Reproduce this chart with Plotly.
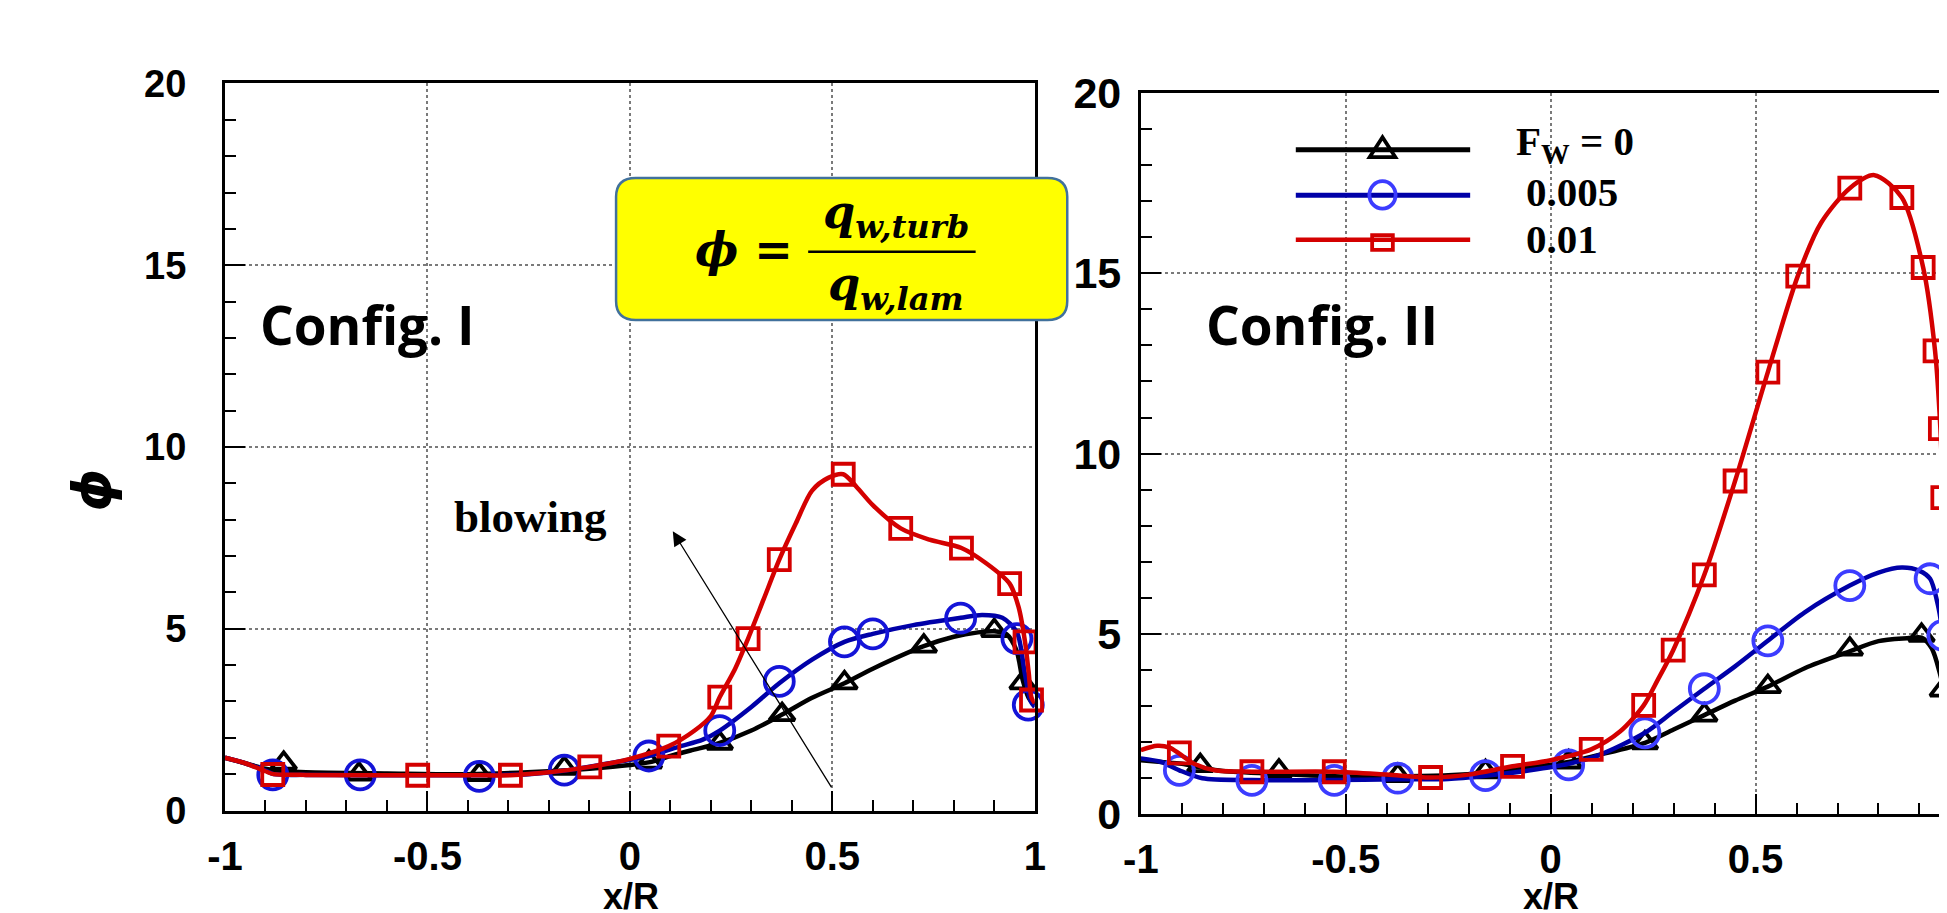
import plotly.graph_objects as go

W, H = 1947, 913

# ---------------- data ----------------
x_ticks = [-1, -0.5, 0, 0.5, 1]
x_tick_text = ["-1", "-0.5", "0", "0.5", "1"]
y_ticks = [0, 5, 10, 15, 20]
y_tick_text = ["0", "5", "10", "15", "20"]
legend_names = ["F<sub>W</sub> = 0", "0.005", "0.01"]

# Config. I  (left panel) - curves
c1_black_cx = [-1.0, -0.95, -0.9, -0.85, -0.8, -0.6, -0.4, -0.2, -0.1, 0.0, 0.05, 0.1, 0.15, 0.22, 0.3, 0.376, 0.45, 0.53, 0.6, 0.726, 0.8, 0.86, 0.9, 0.93, 0.955, 0.97, 0.985, 1.0]
c1_black_cy = [1.45, 1.3, 1.15, 1.08, 1.05, 1.02, 1.0, 1.08, 1.15, 1.25, 1.33, 1.5, 1.65, 1.85, 2.2, 2.64, 3.1, 3.5, 3.9, 4.52, 4.78, 4.9, 4.93, 4.85, 4.4, 3.6, 3.1, 2.9]
c1_blue_cx = [-1.0, -0.95, -0.9, -0.88, -0.8, -0.67, -0.5, -0.37, -0.25, -0.16, -0.05, 0.047, 0.12, 0.18, 0.222, 0.3, 0.369, 0.45, 0.53, 0.6, 0.7, 0.817, 0.87, 0.92, 0.956, 0.975, 0.99, 1.0]
c1_blue_cy = [1.45, 1.3, 1.1, 1.0, 0.98, 0.97, 0.97, 0.97, 1.0, 1.1, 1.3, 1.5, 1.75, 1.95, 2.2, 2.85, 3.5, 4.15, 4.64, 4.86, 5.1, 5.3, 5.38, 5.3, 4.9, 3.8, 3.0, 2.85]
c1_red_cx = [-1.0, -0.95, -0.9, -0.88, -0.8, -0.526, -0.4, -0.295, -0.2, -0.099, 0.0, 0.096, 0.16, 0.2, 0.222, 0.26, 0.292, 0.33, 0.369, 0.41, 0.45, 0.49, 0.527, 0.56, 0.6, 0.669, 0.74, 0.819, 0.88, 0.938, 0.96, 0.976, 0.985, 0.992, 1.0]
c1_red_cy = [1.45, 1.3, 1.08, 1.0, 0.98, 0.97, 0.97, 0.97, 1.05, 1.2, 1.42, 1.77, 2.2, 2.6, 3.12, 3.9, 4.73, 5.8, 6.9, 7.9, 8.8, 9.15, 9.25, 8.9, 8.4, 7.76, 7.45, 7.22, 6.8, 6.24, 5.6, 4.64, 3.8, 3.1, 2.95]
# Config. I - symbols
c1_black_mx = [-0.855, -0.669, -0.372, -0.162, 0.047, 0.222, 0.376, 0.53, 0.726, 0.90, 0.970]
c1_black_my = [1.30, 1.00, 0.99, 1.16, 1.33, 1.85, 2.64, 3.51, 4.52, 4.95, 3.51]
c1_blue_mx = [-0.882, -0.666, -0.372, -0.162, 0.047, 0.222, 0.369, 0.53, 0.60, 0.817, 0.956, 0.984]
c1_blue_my = [0.98, 0.98, 0.94, 1.11, 1.50, 2.20, 3.55, 4.64, 4.86, 5.29, 4.73, 2.90]
c1_red_mx = [-0.882, -0.524, -0.295, -0.099, 0.096, 0.222, 0.292, 0.369, 0.527, 0.669, 0.819, 0.938, 0.976, 0.992]
c1_red_my = [0.99, 0.97, 0.97, 1.20, 1.77, 3.12, 4.73, 6.90, 9.25, 7.76, 7.22, 6.24, 4.64, 3.04]

# Config. II (right panel) - curves
c2_black_cx = [-1.0, -0.95, -0.9, -0.855, -0.8, -0.663, -0.5, -0.373, -0.25, -0.159, -0.05, 0.044, 0.12, 0.23, 0.3, 0.375, 0.45, 0.53, 0.62, 0.73, 0.8, 0.87, 0.905, 0.93, 0.95, 0.96]
c2_black_cy = [1.5, 1.45, 1.4, 1.3, 1.2, 1.12, 1.05, 1.05, 1.08, 1.15, 1.3, 1.45, 1.65, 1.98, 2.35, 2.75, 3.15, 3.54, 4.05, 4.52, 4.8, 4.88, 4.9, 4.6, 3.9, 3.4]
c2_blue_cx = [-1.0, -0.95, -0.906, -0.85, -0.729, -0.528, -0.373, -0.25, -0.159, -0.05, 0.044, 0.12, 0.23, 0.3, 0.375, 0.45, 0.53, 0.62, 0.73, 0.8, 0.857, 0.9, 0.926, 0.945, 0.957, 0.965]
c2_blue_cy = [1.55, 1.45, 1.22, 1.0, 0.95, 0.95, 0.97, 0.98, 1.07, 1.22, 1.4, 1.65, 2.26, 2.85, 3.48, 4.1, 4.81, 5.6, 6.34, 6.7, 6.84, 6.75, 6.53, 5.8, 4.96, 4.0]
c2_red_cx = [-1.0, -0.96, -0.93, -0.906, -0.87, -0.82, -0.729, -0.528, -0.4, -0.293, -0.2, -0.093, 0.0, 0.099, 0.17, 0.227, 0.26, 0.299, 0.375, 0.45, 0.53, 0.603, 0.66, 0.73, 0.79, 0.857, 0.909, 0.938, 0.951, 0.957, 0.962]
c2_red_cy = [1.78, 1.9, 1.85, 1.68, 1.4, 1.22, 1.18, 1.18, 1.1, 1.02, 1.1, 1.33, 1.5, 1.8, 2.3, 3.02, 3.7, 4.55, 6.64, 9.24, 12.26, 14.92, 16.4, 17.36, 17.72, 17.1, 15.16, 12.85, 10.69, 8.78, 7.0]
# Config. II - symbols
c2_black_mx = [-0.855, -0.663, -0.373, -0.159, 0.044, 0.23, 0.375, 0.53, 0.73, 0.905, 0.957]
c2_black_my = [1.35, 1.2, 1.07, 1.18, 1.45, 1.98, 2.75, 3.54, 4.58, 4.96, 3.44]
c2_blue_mx = [-0.906, -0.729, -0.528, -0.373, -0.159, 0.044, 0.23, 0.375, 0.53, 0.73, 0.926, 0.957]
c2_blue_my = [1.22, 0.94, 0.94, 1.0, 1.07, 1.37, 2.26, 3.48, 4.81, 6.34, 6.53, 4.96]
c2_red_mx = [-0.906, -0.729, -0.528, -0.293, -0.093, 0.099, 0.227, 0.299, 0.375, 0.45, 0.53, 0.603, 0.73, 0.857, 0.909, 0.938, 0.951, 0.957]
c2_red_my = [1.70, 1.18, 1.18, 1.02, 1.33, 1.80, 3.02, 4.55, 6.64, 9.24, 12.26, 14.92, 17.36, 17.10, 15.16, 12.85, 10.69, 8.78]

# ---------------- styles ----------------
BLACK = "#000000"
BLUE_LINE = "#0000a8"
BLUE_MK1 = "#1414d8"
BLUE_MK2 = "#3c3cff"
RED = "#d40000"
LW = 4.5
MKW = 3.8


def px(x):
    return x / W


def py(y):
    return 1 - y / H


fig = go.Figure()

series = [
    ("x", "y", c1_black_cx, c1_black_cy, c1_black_mx, c1_black_my, BLACK, BLACK, "triangle-up-open", 22),
    ("x", "y", c1_blue_cx, c1_blue_cy, c1_blue_mx, c1_blue_my, BLUE_LINE, BLUE_MK1, "circle-open", 29),
    ("x", "y", c1_red_cx, c1_red_cy, c1_red_mx, c1_red_my, RED, RED, "square-open", 21),
    ("x2", "y2", c2_black_cx, c2_black_cy, c2_black_mx, c2_black_my, BLACK, BLACK, "triangle-up-open", 22),
    ("x2", "y2", c2_blue_cx, c2_blue_cy, c2_blue_mx, c2_blue_my, BLUE_LINE, BLUE_MK2, "circle-open", 29),
    ("x2", "y2", c2_red_cx, c2_red_cy, c2_red_mx, c2_red_my, RED, RED, "square-open", 21),
]
for xa, ya, cx, cy, mx, my, lc, mc, sym, ms in series:
    fig.add_trace(go.Scatter(x=cx, y=cy, xaxis=xa, yaxis=ya, mode="lines",
                             line=dict(color=lc, width=LW, shape="spline", smoothing=0.8),
                             showlegend=False, hoverinfo="skip"))
    fig.add_trace(go.Scatter(x=mx, y=my, xaxis=xa, yaxis=ya, mode="markers",
                             marker=dict(symbol=sym, size=ms, color=mc, line=dict(width=MKW, color=mc)),
                             showlegend=False, cliponaxis=False))


def axis_style(tick_size, standoff):
    return dict(showline=True, linewidth=3, linecolor="black",
                ticks="inside", ticklen=20, tickwidth=2, tickcolor="black",
                showgrid=True, gridcolor="#7a7a7a", griddash="dot", gridwidth=1.5,
                zeroline=False, ticklabelstandoff=standoff,
                tickfont=dict(family="Liberation Sans", size=tick_size, color="black", weight="bold"))


xmin = dict(ticks="inside", ticklen=11, tickwidth=2, tickcolor="black", dtick=0.1, tick0=-1, showgrid=False)
ymin = dict(ticks="inside", ticklen=11, tickwidth=2, tickcolor="black", dtick=1, tick0=0, showgrid=False)

fig.update_layout(
    width=W, height=H, margin=dict(l=0, r=0, t=0, b=0),
    paper_bgcolor="white", plot_bgcolor="white", showlegend=False,
    xaxis=dict(axis_style(40, 8), domain=[px(202), px(1024)], range=[-1, 1], anchor="y",
               tickmode="array", tickvals=x_ticks, ticktext=x_tick_text, mirror=True, minor=xmin),
    yaxis=dict(axis_style(38, 28), domain=[py(821.7), py(54.3)], range=[0, 20], anchor="x",
               tickmode="array", tickvals=y_ticks, ticktext=y_tick_text, mirror=True, minor=ymin),
    xaxis2=dict(axis_style(40, 8), domain=[px(1131.7), 1.0], range=[-1, (W - 1131.7) / 416 - 1], anchor="y2",
                tickmode="array", tickvals=x_ticks, ticktext=x_tick_text, mirror=True, minor=xmin),
    yaxis2=dict(axis_style(43, 8), domain=[py(825.7), py(64.3)], range=[0, 20], anchor="x2",
                tickmode="array", tickvals=y_ticks, ticktext=y_tick_text, mirror=False, minor=ymin),
)

# ---------------- legend (drawn in the top-left of the Config. II panel) ----------------
leg_x0, leg_x1, leg_xc = 1289, 1466, 1377
leg_rows = [124.3, 172.3, 219.3]
leg_line = [(BLACK, 5), (BLUE_LINE, 5), (RED, 4.5)]
for (col, w), yy in zip(leg_line, leg_rows):
    fig.add_shape(type="line", xref="paper", yref="paper", x0=px(leg_x0), x1=px(leg_x1),
                  y0=py(yy), y1=py(yy), line=dict(color=col, width=w), layer="above")
# legend symbols
fig.add_shape(type="path", xref="paper", yref="paper",
              path=f"M {px(leg_xc-13)},{py(132)} L {px(leg_xc+13)},{py(132)} L {px(leg_xc)},{py(111)} Z",
              line=dict(color=BLACK, width=3.8), fillcolor="rgba(0,0,0,0)", layer="above")
fig.add_shape(type="circle", xref="paper", yref="paper",
              x0=px(leg_xc-13.3), x1=px(leg_xc+13.3), y0=py(186.5), y1=py(157.5),
              line=dict(color=BLUE_MK2, width=3.8), fillcolor="rgba(0,0,0,0)", layer="above")
fig.add_shape(type="rect", xref="paper", yref="paper",
              x0=px(leg_xc-10.5), x1=px(leg_xc+10.5), y0=py(230), y1=py(214.5),
              line=dict(color=RED, width=3.8), fillcolor="rgba(0,0,0,0)", layer="above")
leg_font = dict(family="Liberation Serif", size=41, color="black", weight="bold")
for name, xl, yc in zip(legend_names, [1511, 1521, 1521], [118.2, 169.2, 218.2]):
    fig.add_annotation(xref="paper", yref="paper", x=px(xl), y=py(yc), text=f"<b>{name}</b>",
                       showarrow=False, xanchor="left", yanchor="middle", font=leg_font)

# ---------------- rounded yellow formula box ----------------
x0, x1, y0, y1, r = 599, 1057, 154, 304, 20
rx, ry = r / W, r / H
X0, X1, Y0, Y1 = px(x0), px(x1), py(y1), py(y0)
path = (f"M {X0+rx},{Y0} L {X1-rx},{Y0} Q {X1},{Y0} {X1},{Y0+ry} L {X1},{Y1-ry} Q {X1},{Y1} {X1-rx},{Y1} "
        f"L {X0+rx},{Y1} Q {X0},{Y1} {X0},{Y1-ry} L {X0},{Y0+ry} Q {X0},{Y0} {X0+rx},{Y0} Z")
fig.add_shape(type="path", path=path, xref="paper", yref="paper", fillcolor="#ffff00",
              line=dict(color="#41719c", width=2.5), layer="above")
fig.add_shape(type="line", xref="paper", yref="paper", x0=px(794), x1=px(964), y0=py(232), y1=py(232),
              line=dict(color="black", width=2.5), layer="above")

math_font = dict(family="DejaVu Serif", size=46, color="black", weight="bold", style="italic")
ann = [
    dict(text="<b><i>ϕ =</i></b>", x=px(729), y=py(230), font=math_font),
    dict(text="<b><i>q<sub>w,turb</sub></i></b>", x=px(883), y=py(194), font=math_font),
    dict(text="<b><i>q<sub>w,lam</sub></i></b>", x=px(883), y=py(270), font=math_font),
    dict(text="<b>Config. I</b>", x=px(236), y=py(308.5), xanchor="left",
         font=dict(family="Open Sans", size=53, color="black", weight="bold")),
    dict(text="<b>Config. II</b>", x=px(1196), y=py(308.5), xanchor="left",
         font=dict(family="Open Sans", size=53, color="black", weight="bold")),
    dict(text="<b>blowing</b>", x=px(432), y=py(512), xanchor="left",
         font=dict(family="Liberation Serif", size=45, color="black", weight="bold")),
    dict(text="<b><i>ϕ</i></b>", x=px(67.5), y=py(483.5), textangle=-90,
         font=dict(family="DejaVu Sans", size=54, color="black", weight="bold", style="italic")),
    dict(text="<b>x/R</b>", x=px(614), y=py(912),
         font=dict(family="Liberation Sans", size=36, color="black", weight="bold")),
    dict(text="<b>x/R</b>", x=px(1548), y=py(912),
         font=dict(family="Liberation Sans", size=36, color="black", weight="bold")),
]
for a in ann:
    a.setdefault("xanchor", "center")
    a.setdefault("yanchor", "middle")
    fig.add_annotation(xref="paper", yref="paper", showarrow=False, **a)

# blowing arrow (data coords of left panel)
fig.add_annotation(xref="x", yref="y", axref="x", ayref="y", x=0.106, y=7.68, ax=0.5, ay=0.6,
                   text="", showarrow=True, arrowhead=2, arrowsize=2.2, arrowwidth=1.3,
                   arrowcolor="black", standoff=0, startstandoff=0)

fig.write_html("out.html")
